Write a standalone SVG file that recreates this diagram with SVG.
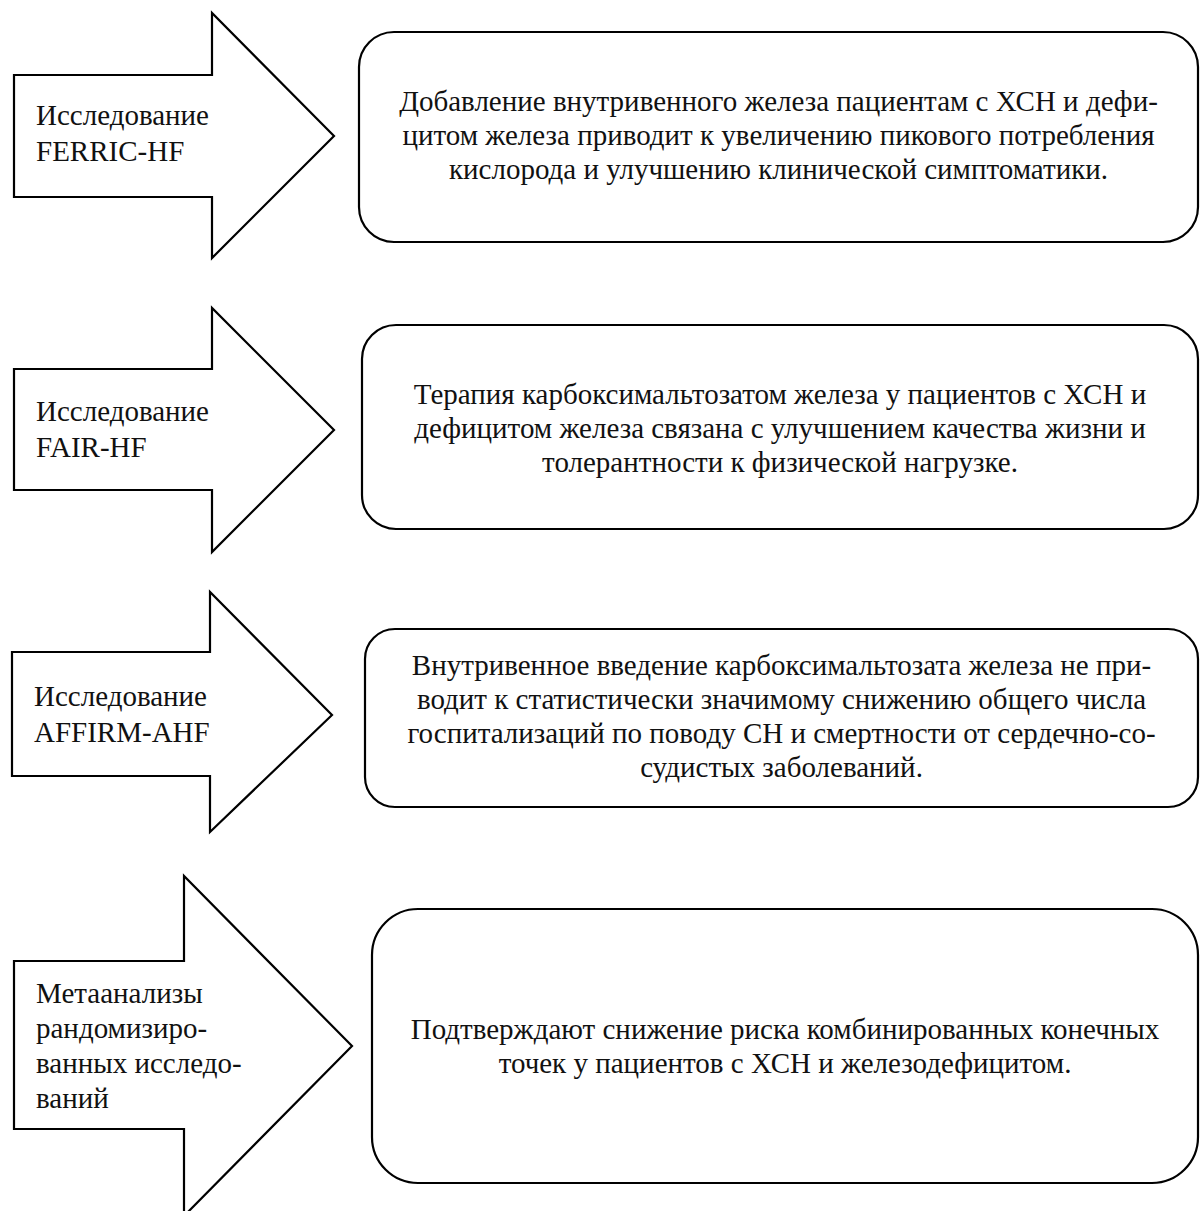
<svg xmlns="http://www.w3.org/2000/svg" width="1200" height="1211" viewBox="0 0 1200 1211">
<style>
.shape{fill:#fff;stroke:#000;stroke-width:2.2;stroke-linejoin:miter}
.lbl{font-family:"Liberation Serif","DejaVu Serif",serif;font-size:29px;fill:#111}
.txt{font-family:"Liberation Serif","DejaVu Serif",serif;font-size:29px;fill:#111;text-anchor:middle}
</style>
<rect width="1200" height="1211" fill="#fff"/>
<g id="arrow1">
<polygon class="shape" points="14,75 212,75 212,13 334,136 212,258 212,197 14,197"/>
<text class="lbl" x="36" y="125">Исследование</text>
<text class="lbl" x="36" y="161">FERRIC-HF</text>
</g>
<g id="box1">
<rect class="shape" x="359" y="32" width="839" height="210" rx="35" ry="35"/>
<text class="txt" x="778.5" y="111">Добавление внутривенного железа пациентам с ХСН и дефи-</text>
<text class="txt" x="778.5" y="145">цитом железа приводит к увеличению пикового потребления</text>
<text class="txt" x="778.5" y="179">кислорода и улучшению клинической симптоматики.</text>
</g>
<g id="arrow2">
<polygon class="shape" points="14,369 212,369 212,308 334,430 212,552 212,490 14,490"/>
<text class="lbl" x="36" y="421">Исследование</text>
<text class="lbl" x="36" y="457">FAIR-HF</text>
</g>
<g id="box2">
<rect class="shape" x="362" y="325" width="836" height="204" rx="34" ry="34"/>
<text class="txt" x="780" y="404">Терапия карбоксимальтозатом железа у пациентов с ХСН и</text>
<text class="txt" x="780" y="438">дефицитом железа связана с улучшением качества жизни и</text>
<text class="txt" x="780" y="472">толерантности к физической нагрузке.</text>
</g>
<g id="arrow3">
<polygon class="shape" points="12,652 210,652 210,592 332,715 210,832 210,776 12,776"/>
<text class="lbl" x="34" y="706">Исследование</text>
<text class="lbl" x="34" y="742">AFFIRM-AHF</text>
</g>
<g id="box3">
<rect class="shape" x="365" y="629" width="833" height="178" rx="30" ry="30"/>
<text class="txt" x="781.5" y="675">Внутривенное введение карбоксимальтозата железа не при-</text>
<text class="txt" x="781.5" y="709">водит к статистически значимому снижению общего числа</text>
<text class="txt" x="781.5" y="743">госпитализаций по поводу СН и смертности от сердечно-со-</text>
<text class="txt" x="781.5" y="777">судистых заболеваний.</text>
</g>
<g id="arrow4">
<polygon class="shape" points="14,961 184,961 184,876 352,1046 184,1216 184,1129 14,1129"/>
<text class="lbl" x="36" y="1003">Метаанализы</text>
<text class="lbl" x="36" y="1038">рандомизиро-</text>
<text class="lbl" x="36" y="1073">ванных исследо-</text>
<text class="lbl" x="36" y="1108">ваний</text>
</g>
<g id="box4">
<rect class="shape" x="372" y="909" width="826" height="274" rx="46" ry="46"/>
<text class="txt" x="785" y="1039">Подтверждают снижение риска комбинированных конечных</text>
<text class="txt" x="785" y="1073">точек у пациентов с ХСН и железодефицитом.</text>
</g>
<g id="connectors"></g>
</svg>
